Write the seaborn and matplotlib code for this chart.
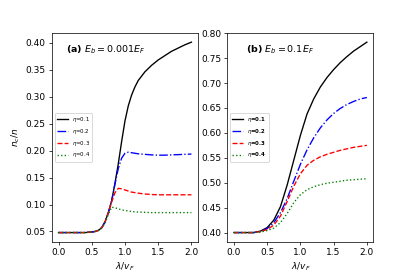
import numpy as np
import pandas as pd
import matplotlib
matplotlib.use("Agg")
import matplotlib.pyplot as plt
import seaborn as sns

# panel (a): E_b = 0.001 E_F
x_a = [0.0, 0.1, 0.2, 0.3, 0.4, 0.5, 0.55, 0.6, 0.65, 0.7, 0.75, 0.8, 0.85, 0.9,
       0.95, 1.0, 1.05, 1.1, 1.15, 1.2, 1.3, 1.4, 1.5, 1.6, 1.7, 1.8, 1.9, 2.0]
eta01_a = [0.048, 0.048, 0.048, 0.048, 0.048, 0.049, 0.050, 0.052, 0.057, 0.068, 0.085, 0.107, 0.140, 0.176,
           0.217, 0.255, 0.283, 0.303, 0.318, 0.330, 0.346, 0.358, 0.368, 0.376, 0.384, 0.390, 0.396, 0.401]
eta02_a = [0.048, 0.048, 0.048, 0.048, 0.048, 0.049, 0.050, 0.052, 0.057, 0.068, 0.085, 0.107, 0.138, 0.167,
           0.186, 0.195, 0.197, 0.196, 0.195, 0.194, 0.193, 0.192, 0.1915, 0.1915, 0.192, 0.1925, 0.193, 0.1935]
eta03_a = [0.048, 0.048, 0.048, 0.048, 0.048, 0.049, 0.050, 0.052, 0.057, 0.067, 0.085, 0.105, 0.122, 0.130,
           0.129, 0.127, 0.125, 0.123, 0.122, 0.121, 0.1195, 0.1185, 0.118, 0.118, 0.118, 0.118, 0.118, 0.118]
eta04_a = [0.048, 0.048, 0.048, 0.048, 0.048, 0.049, 0.050, 0.052, 0.056, 0.065, 0.082, 0.095, 0.094, 0.092,
           0.090, 0.089, 0.088, 0.087, 0.0865, 0.086, 0.0855, 0.085, 0.085, 0.085, 0.085, 0.085, 0.085, 0.085]

# panel (b): E_b = 0.1 E_F
x_b = [0.0, 0.1, 0.2, 0.3, 0.4, 0.5, 0.6, 0.7, 0.8, 0.9, 1.0,
       1.1, 1.2, 1.3, 1.4, 1.5, 1.6, 1.7, 1.8, 1.9, 2.0]
eta01_b = [0.400, 0.400, 0.400, 0.400, 0.403, 0.410, 0.425, 0.452, 0.495, 0.545, 0.595,
           0.638, 0.668, 0.692, 0.711, 0.727, 0.741, 0.753, 0.764, 0.773, 0.782]
eta02_b = [0.400, 0.400, 0.400, 0.400, 0.402, 0.408, 0.420, 0.440, 0.468, 0.503, 0.537,
           0.566, 0.590, 0.610, 0.626, 0.639, 0.649, 0.657, 0.663, 0.668, 0.671]
eta03_b = [0.400, 0.400, 0.400, 0.400, 0.402, 0.406, 0.415, 0.433, 0.462, 0.493, 0.518,
           0.535, 0.545, 0.552, 0.557, 0.561, 0.565, 0.568, 0.571, 0.573, 0.575]
eta04_b = [0.400, 0.400, 0.400, 0.400, 0.401, 0.404, 0.409, 0.420, 0.438, 0.460, 0.476,
           0.486, 0.492, 0.496, 0.499, 0.501, 0.503, 0.505, 0.506, 0.507, 0.508]

eta_labels = [r"$\eta$=0.1", r"$\eta$=0.2", r"$\eta$=0.3", r"$\eta$=0.4"]
colors = ["black", "blue", "red", "green"]
styles = ["-", "-.", "--", ":"]

dpi = 64.84
fig, axes = plt.subplots(1, 2, figsize=(415 / dpi, 272 / dpi), dpi=dpi)

panels = [
    (axes[0], x_a, [eta01_a, eta02_a, eta03_a, eta04_a], r"(a) $E_b=0.001E_F$", 0.10, "normal"),
    (axes[1], x_b, [eta01_b, eta02_b, eta03_b, eta04_b], r"(b) $E_b=0.1E_F$", 0.13, "bold"),
]

for ax, xs, series, title, tx, lw in panels:
    for ys, lab, c, ls in zip(series, eta_labels, colors, styles):
        df = pd.DataFrame({"x": xs, "y": ys})
        sns.lineplot(data=df, x="x", y="y", ax=ax, color=c, linestyle=ls, label=lab, linewidth=1.5)
    ax.text(tx, 0.92, title, transform=ax.transAxes, fontsize=10.5, fontweight="bold", va="center")
    ax.set_xlabel(r"$\lambda/v_F$")
    ax.set_ylabel("")
    ax.set_xticks([0.0, 0.5, 1.0, 1.5, 2.0])
    ax.legend(loc="center left", prop={"size": 6, "weight": lw})

axes[0].set_ylabel(r"$n_c/n$")

fig.savefig("out.png", dpi=dpi)
